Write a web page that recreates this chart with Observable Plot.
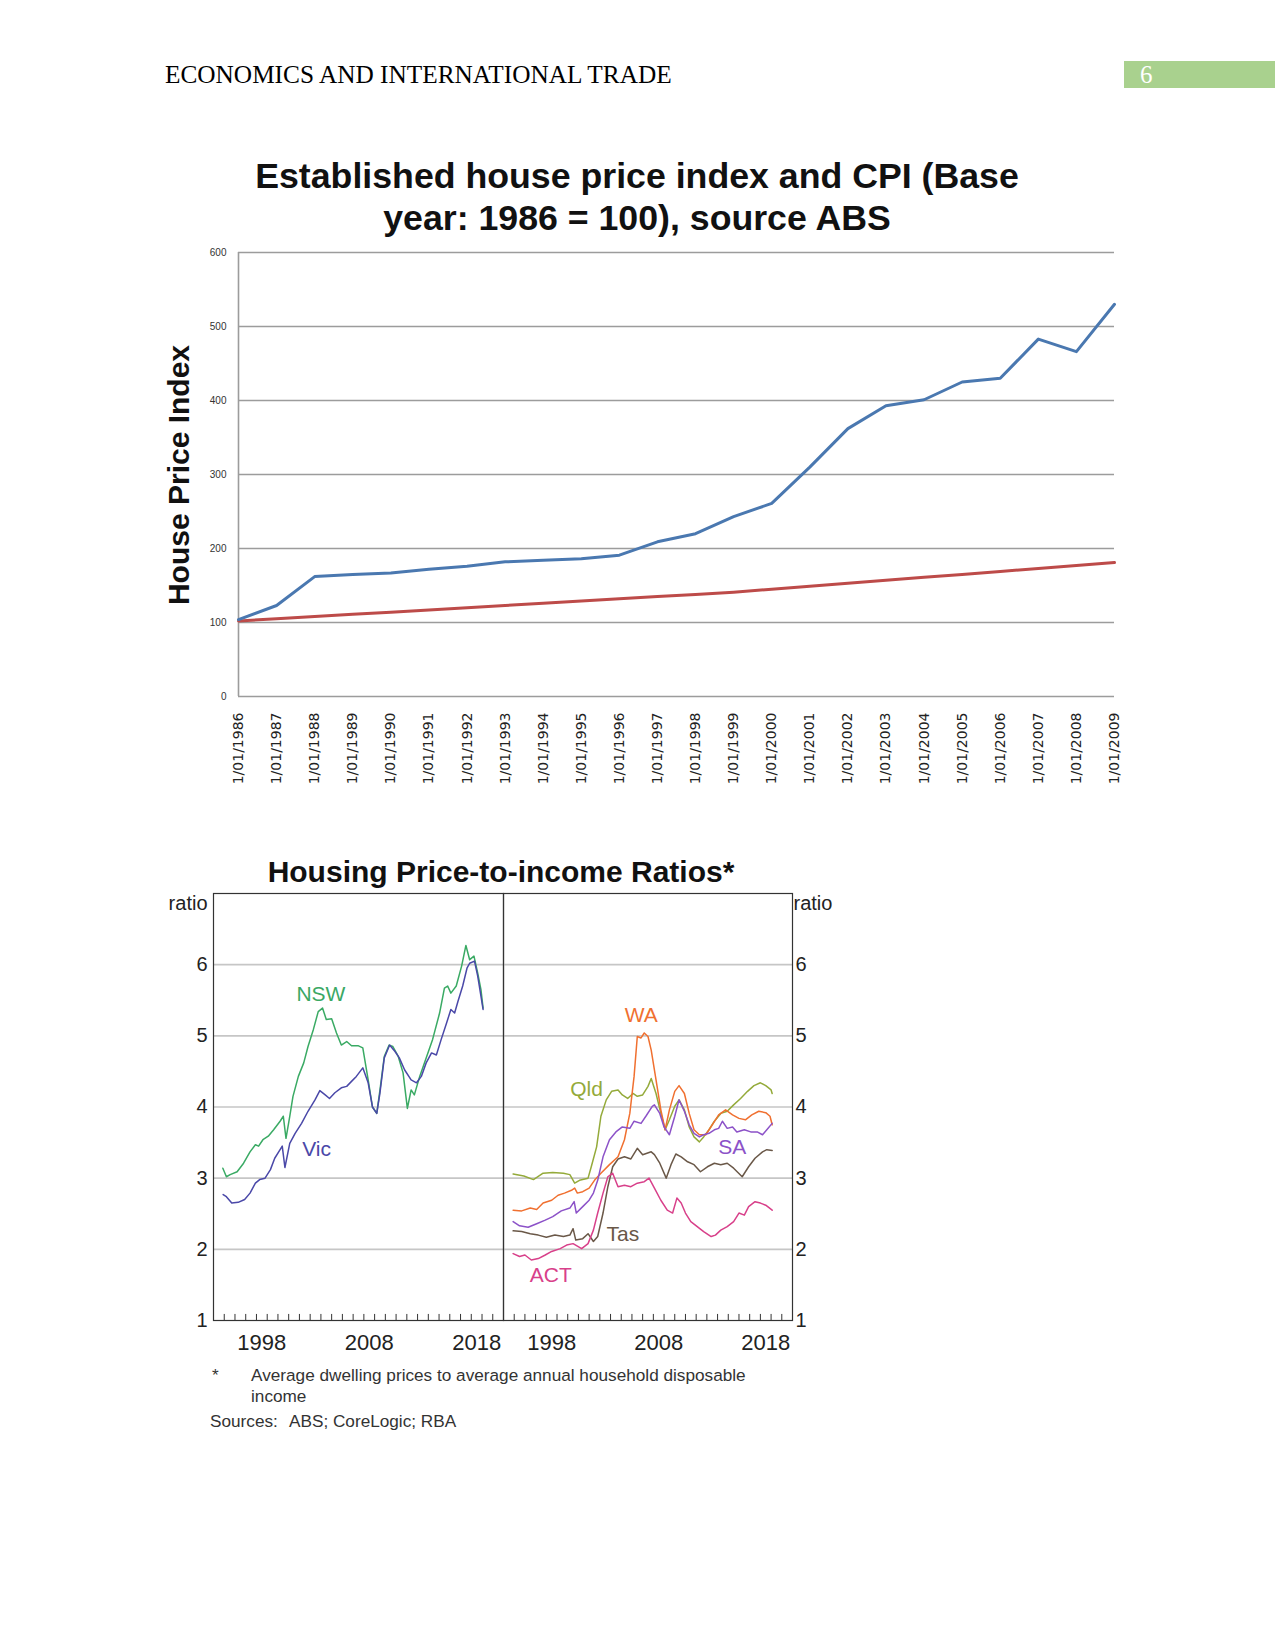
<!DOCTYPE html>
<html><head><meta charset="utf-8">
<script src="https://cdn.jsdelivr.net/npm/d3@7"></script>
<script src="https://cdn.jsdelivr.net/npm/@observablehq/plot@0.6"></script>
<style>
body{margin:0;background:#fff;}
#page{position:relative;width:1275px;height:1650px;overflow:hidden;background:#fff;}
.abs{position:absolute;white-space:nowrap;}
.sans{font-family:'Liberation Sans',Arial,sans-serif;}
.serif{font-family:'Liberation Serif','Times New Roman',serif;}
</style></head><body><div id="page">
<div class="abs serif" style="left:165px;top:62px;font-size:25.3px;line-height:25px;color:#000;">ECONOMICS AND INTERNATIONAL TRADE</div>
<div class="abs" style="left:1124px;top:61px;width:151px;height:27px;background:#a9d18e;"></div>
<div class="abs serif" style="left:1140px;top:62px;font-size:25px;line-height:25px;color:#fff;">6</div>

<div class="abs sans" style="left:237px;top:159px;width:800px;text-align:center;font-size:35.7px;line-height:35.7px;font-weight:bold;color:#111;">Established house price index and CPI (Base</div>
<div class="abs sans" style="left:237px;top:201px;width:800px;text-align:center;font-size:35.7px;line-height:35.7px;font-weight:bold;color:#111;">year: 1986 = 100), source ABS</div>
<div class="abs sans" style="left:29px;top:460px;width:300px;text-align:center;font-size:30px;line-height:30px;font-weight:bold;color:#111;transform:rotate(-90deg);transform-origin:150px 15px;">House Price Index</div>
<div id="c1" class="abs" style="left:160px;top:240px;"></div>

<div class="abs sans" style="left:251px;top:857px;width:500px;text-align:center;font-size:30px;line-height:30px;font-weight:bold;color:#111;">Housing Price-to-income Ratios*</div>
<div id="c2a" class="abs" style="left:150px;top:880px;"></div>
<div id="c2b" class="abs" style="left:503px;top:880px;"></div>

<div class="abs sans" style="left:212px;top:1367px;font-size:17.2px;line-height:17px;color:#333;">*</div>
<div class="abs sans" style="left:251px;top:1367px;font-size:17.2px;line-height:17px;color:#333;">Average dwelling prices to average annual household disposable</div>
<div class="abs sans" style="left:251px;top:1388px;font-size:17.2px;line-height:17px;color:#333;">income</div>
<div class="abs sans" style="left:210px;top:1413px;font-size:17.2px;line-height:17px;color:#333;">Sources:</div>
<div class="abs sans" style="left:289px;top:1413px;font-size:17.2px;line-height:17px;color:#333;">ABS; CoreLogic; RBA</div>
</div>
<script>
// ---------- Chart 1 data ----------
const years1 = [1986,1987,1988,1989,1990,1991,1992,1993,1994,1995,1996,1997,1998,1999,2000,2001,2002,2003,2004,2005,2006,2007,2008,2009];
const housePrice = [104,123,162,165,167,172,176,182,184,186,191,209,220,243,261,310,362,393,401,425,430,483,466,530];
const cpi = [102,105,108,111,114,117,120,123,126,129,132,135,138,141,145,149,153,157,161,165,169,173,177,181];
const yTicks1 = [0,100,200,300,400,500,600];

// ---------- Chart 2 data (year, ratio) ----------
const NSW = [[1994.87,3.14],[1995.2,3.02],[1995.55,3.05],[1996.2,3.09],[1996.8,3.21],[1997.4,3.37],[1997.9,3.47],[1998.2,3.45],[1998.6,3.54],[1999.1,3.59],[1999.6,3.68],[2000.2,3.80],[2000.5,3.87],[2000.75,3.56],[2001.1,3.87],[2001.4,4.15],[2001.9,4.43],[2002.4,4.62],[2002.8,4.85],[2003.3,5.09],[2003.75,5.34],[2004.15,5.39],[2004.5,5.23],[2005.0,5.24],[2005.45,5.04],[2005.9,4.87],[2006.4,4.92],[2006.85,4.86],[2007.5,4.86],[2007.9,4.83],[2008.4,4.38],[2008.8,4.0],[2009.2,3.91],[2009.5,4.24],[2009.9,4.71],[2010.35,4.87],[2010.7,4.85],[2011.2,4.71],[2011.65,4.48],[2012.05,3.98],[2012.4,4.24],[2012.7,4.17],[2013.2,4.43],[2013.8,4.69],[2014.4,4.95],[2015.05,5.32],[2015.5,5.67],[2015.8,5.70],[2016.1,5.60],[2016.6,5.70],[2017.1,5.98],[2017.5,6.27],[2017.85,6.07],[2018.25,6.12],[2018.6,5.88],[2018.9,5.65],[2019.1,5.39]];
const VIC = [[1994.9,2.77],[1995.2,2.74],[1995.7,2.65],[1996.3,2.66],[1996.9,2.70],[1997.4,2.79],[1997.9,2.93],[1998.3,2.98],[1998.8,3.0],[1999.3,3.12],[1999.7,3.28],[2000.2,3.40],[2000.4,3.45],[2000.65,3.15],[2001.1,3.49],[2001.6,3.63],[2002.2,3.77],[2002.8,3.94],[2003.45,4.10],[2003.9,4.23],[2004.4,4.17],[2004.8,4.12],[2005.3,4.20],[2005.9,4.27],[2006.4,4.29],[2006.85,4.36],[2007.3,4.43],[2007.9,4.55],[2008.4,4.34],[2008.8,4.0],[2009.2,3.91],[2009.5,4.2],[2009.9,4.69],[2010.4,4.87],[2010.9,4.78],[2011.3,4.69],[2011.8,4.52],[2012.4,4.38],[2012.9,4.34],[2013.35,4.43],[2013.8,4.62],[2014.3,4.76],[2014.75,4.73],[2015.2,4.95],[2015.7,5.18],[2016.1,5.37],[2016.45,5.32],[2016.75,5.48],[2017.2,5.70],[2017.6,5.95],[2017.85,6.02],[2018.3,6.05],[2018.6,5.84],[2019.1,5.37]];
const QLD = [[1994.9,3.06],[1995.9,3.03],[1996.8,2.98],[1997.7,3.07],[1998.6,3.08],[1999.6,3.07],[2000.2,3.05],[2000.65,2.93],[2001.1,2.97],[2001.9,3.0],[2002.2,3.16],[2002.7,3.44],[2003.1,3.87],[2003.6,4.10],[2004.1,4.22],[2004.7,4.24],[2005.1,4.17],[2005.6,4.12],[2006.1,4.19],[2006.5,4.15],[2007.0,4.17],[2007.5,4.29],[2007.8,4.40],[2008.25,4.19],[2008.7,3.91],[2009.1,3.68],[2009.5,3.82],[2010.0,4.01],[2010.4,4.10],[2010.9,3.96],[2011.35,3.72],[2011.8,3.58],[2012.3,3.51],[2012.7,3.58],[2013.2,3.68],[2013.7,3.80],[2014.3,3.91],[2014.9,3.94],[2015.5,4.03],[2016.15,4.12],[2016.8,4.22],[2017.4,4.30],[2018.0,4.34],[2018.5,4.30],[2019.0,4.24],[2019.1,4.19]];
const WA = [[1994.9,2.55],[1995.7,2.54],[1996.5,2.58],[1997.1,2.56],[1997.7,2.65],[1998.5,2.69],[1999.1,2.76],[1999.7,2.79],[2000.35,2.83],[2000.65,2.86],[2000.9,2.79],[2001.4,2.81],[2002.0,2.86],[2002.5,2.97],[2003.1,3.07],[2003.9,3.19],[2004.7,3.30],[2005.3,3.54],[2005.8,3.91],[2006.2,4.43],[2006.5,4.99],[2006.85,4.97],[2007.15,5.04],[2007.5,4.99],[2007.8,4.80],[2008.25,4.38],[2008.7,3.96],[2009.1,3.68],[2009.5,3.96],[2010.0,4.22],[2010.4,4.30],[2010.9,4.19],[2011.35,3.91],[2011.8,3.68],[2012.3,3.61],[2012.9,3.61],[2013.5,3.75],[2014.1,3.89],[2014.75,3.96],[2015.4,3.89],[2016.0,3.84],[2016.6,3.82],[2017.2,3.89],[2017.85,3.94],[2018.5,3.92],[2018.9,3.87],[2019.1,3.75]];
const SA = [[1994.9,2.39],[1995.5,2.33],[1996.3,2.31],[1997.1,2.36],[1997.9,2.41],[1998.6,2.46],[1999.4,2.54],[2000.2,2.58],[2000.6,2.67],[2000.8,2.51],[2001.4,2.60],[2002.0,2.69],[2002.4,2.79],[2002.8,2.97],[2003.3,3.30],[2003.9,3.54],[2004.5,3.65],[2005.1,3.72],[2005.8,3.70],[2006.2,3.80],[2006.85,3.77],[2007.3,3.87],[2007.9,4.01],[2008.1,4.03],[2008.6,3.91],[2009.0,3.72],[2009.5,3.61],[2010.0,3.87],[2010.4,4.10],[2010.9,3.94],[2011.35,3.75],[2011.8,3.63],[2012.3,3.58],[2012.7,3.61],[2013.2,3.63],[2013.7,3.68],[2014.1,3.70],[2014.45,3.80],[2014.9,3.70],[2015.4,3.72],[2015.8,3.65],[2016.5,3.68],[2017.1,3.65],[2017.7,3.65],[2018.2,3.61],[2018.6,3.68],[2019.1,3.77]];
const TAS = [[1994.9,2.26],[1995.7,2.25],[1996.5,2.22],[1997.25,2.20],[1998.0,2.17],[1998.8,2.20],[1999.6,2.18],[2000.2,2.20],[2000.5,2.29],[2000.75,2.13],[2001.4,2.15],[2001.9,2.22],[2002.4,2.11],[2002.8,2.18],[2003.3,2.51],[2003.75,2.88],[2004.2,3.16],[2004.7,3.27],[2005.3,3.30],[2005.9,3.27],[2006.5,3.42],[2007.0,3.33],[2007.8,3.37],[2008.1,3.33],[2008.6,3.21],[2009.2,3.0],[2009.65,3.19],[2010.1,3.34],[2010.6,3.30],[2011.2,3.23],[2011.8,3.19],[2012.4,3.09],[2013.05,3.16],[2013.7,3.21],[2014.3,3.19],[2014.9,3.21],[2015.5,3.14],[2016.3,3.02],[2016.9,3.16],[2017.5,3.28],[2018.2,3.37],[2018.6,3.40],[2019.1,3.39]];
const ACT = [[1994.9,1.94],[1995.5,1.90],[1996.0,1.92],[1996.6,1.85],[1997.25,1.87],[1997.9,1.92],[1998.5,1.97],[1999.3,2.01],[1999.9,2.06],[2000.5,2.08],[2001.3,2.01],[2001.9,2.08],[2002.4,2.27],[2002.8,2.51],[2003.3,2.79],[2003.75,3.02],[2004.2,3.07],[2004.7,2.88],[2005.3,2.90],[2005.9,2.88],[2006.5,2.93],[2007.15,2.95],[2007.6,3.0],[2008.1,2.86],[2008.7,2.69],[2009.3,2.55],[2009.8,2.51],[2010.2,2.72],[2010.6,2.65],[2011.0,2.51],[2011.5,2.39],[2012.1,2.32],[2012.7,2.25],[2013.4,2.18],[2013.8,2.20],[2014.3,2.27],[2014.9,2.32],[2015.5,2.39],[2016.0,2.51],[2016.5,2.48],[2016.9,2.60],[2017.5,2.67],[2018.0,2.65],[2018.5,2.62],[2019.1,2.55]];
const yearTicks2 = [1995,1996,1997,1998,1999,2000,2001,2002,2003,2004,2005,2006,2007,2008,2009,2010,2011,2012,2013,2014,2015,2016,2017,2018,2019,2020];
const yearLabels2 = [1998.5, 2008.5, 2018.5];
const ratioTicks = [1,2,3,4,5,6];
const gridTicks2 = [2,3,4,5,6];
const leftLabels = [{t:"NSW", x:2004.0, y:5.59, c:"#3aa864"},{t:"Vic", x:2003.6, y:3.40, c:"#4a48a8"}];
const rightLabels = [{t:"WA", x:2006.87, y:5.29, c:"#f07030"},{t:"Qld", x:2001.76, y:4.25, c:"#94aa3a"},{t:"SA", x:2015.37, y:3.43, c:"#8c52c8"},{t:"Tas", x:2005.15, y:2.21, c:"#6a5848"},{t:"ACT", x:1998.41, y:1.63, c:"#d8408a"}];

// ---------- Chart 1 ----------
const c1data = years1.map((y, i) => ({year: y, house: housePrice[i], cpi: cpi[i]}));
const chart1 = Plot.plot({
  width: 970, height: 560,
  marginLeft: 78, marginRight: 16, marginTop: 12, marginBottom: 104,
  style: {fontFamily: "'Liberation Sans', Arial, sans-serif", background: "transparent", overflow: "visible"},
  x: {type: "linear", domain: [1986, 2009]},
  y: {domain: [0, 600]},
  marks: [
    Plot.gridY(yTicks1, {stroke: "#9c9c9c", strokeOpacity: 1, strokeWidth: 1.6}),
    Plot.ruleX([1986], {stroke: "#9c9c9c", strokeWidth: 1.6}),
    Plot.line(c1data, {x: "year", y: "cpi", stroke: "#bd4b49", strokeWidth: 3}),
    Plot.line(c1data, {x: "year", y: "house", stroke: "#4a78b0", strokeWidth: 3}),
    Plot.axisY(yTicks1, {tickSize: 0, tickPadding: 12, fontSize: 10, fill: "#333", label: null}),
    Plot.axisX(years1, {tickSize: 0, tickPadding: 16, tickRotate: -90, tickFormat: d => `1/01/${d}`, fontSize: 14, fontFamily: "'DejaVu Sans', sans-serif", fill: "#222", label: null})
  ]
});
document.getElementById("c1").appendChild(chart1);

// ---------- Chart 2 ----------
const toObj = (arr) => arr.map(([x, y]) => ({x, y}));
function panel(side, series, labels) {
  const left = side === "left";
  return Plot.plot({
    width: left ? 353 : 350, height: 480,
    marginLeft: left ? 63 : 0, marginRight: left ? 0 : 61, marginTop: 13, marginBottom: 40,
    style: {fontFamily: "'Liberation Sans', Arial, sans-serif", background: "transparent", overflow: "visible", color: "#222"},
    x: {type: "linear", domain: [1994, 2021]},
    y: {domain: [1, 7]},
    marks: [
      Plot.gridY(gridTicks2, {stroke: "#c6c6c6", strokeOpacity: 1, strokeWidth: 1.6}),
      Plot.ruleX(yearTicks2, {x: d => d, y1: 1, y2: 1.085, stroke: "#333", strokeWidth: 1}),
      ...series.map(s => Plot.line(toObj(s.data), {x: "x", y: "y", stroke: s.c, strokeWidth: 1.5})),
      Plot.text(labels, {x: "x", y: "y", text: "t", fill: "c", fontSize: 21}),
      Plot.frame({stroke: "#333", strokeWidth: 1.2}),
      Plot.axisY(ratioTicks, {anchor: left ? "left" : "right", tickSize: 0, tickPadding: left ? 6 : 3, fontSize: 20, fill: "#222", tickFormat: d => String(d), label: null}),
      Plot.axisX(yearLabels2, {tickSize: 0, tickPadding: 14, fontSize: 22, fill: "#222", tickFormat: d => String(Math.floor(d)), label: null}),
      Plot.text(["ratio"], {frameAnchor: left ? "top-left" : "top-right", textAnchor: left ? "end" : "start", dx: left ? -6 : 1, dy: 2, fontSize: 20, fill: "#222"})
    ]
  });
}
document.getElementById("c2a").appendChild(panel("left", [{data: NSW, c: "#3aaa64"}, {data: VIC, c: "#4a48a8"}], leftLabels));
document.getElementById("c2b").appendChild(panel("right", [{data: QLD, c: "#94aa3a"}, {data: WA, c: "#f07030"}, {data: SA, c: "#8c52c8"}, {data: TAS, c: "#6a5848"}, {data: ACT, c: "#d8408a"}], rightLabels));
</script>
</body></html>
